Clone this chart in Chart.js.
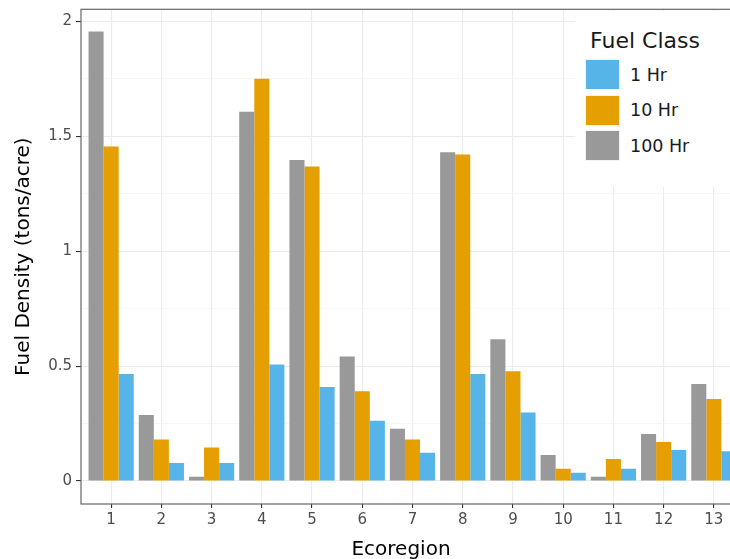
<!DOCTYPE html>
<html>
<head>
<meta charset="utf-8">
<title>Fuel Density by Ecoregion</title>
<script src="https://cdn.jsdelivr.net/npm/chart.js@4"></script>
<style>
  html, body { margin: 0; padding: 0; background: #fff; overflow: hidden; }
  #wrap { position: relative; width: 760px; height: 559px; }
  #legend {
    position: absolute; left: 575px; top: 11px; width: 190px; height: 176px;
    background: #fff; font-family: "DejaVu Sans", sans-serif; color: #1a1a1a;
  }
  #legend .title { position: absolute; left: 15px; top: 17px; font-size: 22px; line-height: 26px; }
  #legend .item { position: absolute; left: 10px; height: 31px; display: flex; align-items: center; }
  #legend .swatch { width: 35px; height: 31px; box-sizing: border-box; border: 1px solid #f4f4f4; }
  #legend .label { margin-left: 10px; font-size: 17.5px; }
</style>
</head>
<body>
<div id="wrap">
  <canvas id="fuelChart" width="760" height="559"></canvas>
  <div id="legend"></div>
</div>
<script>
// Data
const ecoregions = [1, 2, 3, 4, 5, 6, 7, 8, 9, 10, 11, 12, 13];
const hr100 = [1.955, 0.287, 0.019, 1.606, 1.396, 0.542, 0.227, 1.430, 0.617, 0.113, 0.019, 0.204, 0.422];
const hr10 = [1.455, 0.181, 0.146, 1.750, 1.368, 0.391, 0.181, 1.420, 0.478, 0.053, 0.096, 0.170, 0.357];
const hr1 = [0.465, 0.078, 0.078, 0.507, 0.409, 0.262, 0.123, 0.465, 0.298, 0.036, 0.053, 0.135, 0.129];
const yTicks = [0, 0.25, 0.5, 0.75, 1, 1.25, 1.5, 1.75, 2];

const colors = { hr1: '#56B4E9', hr10: '#E69F00', hr100: '#999999' };

const toPoints = (vals) => vals.map((v, i) => ({ x: ecoregions[i], y: v }));
const isMajor = (v) => Math.abs(v * 2 - Math.round(v * 2)) < 1e-9;

// panel border on all four sides + x axis title (placed like the original)
const panelBorder = {
  id: 'panelBorder',
  afterDraw(chart) {
    const { ctx, chartArea: a } = chart;
    ctx.save();
    ctx.strokeStyle = '#666666';
    ctx.lineWidth = 1.2;
    ctx.strokeRect(a.left, a.top, a.right - a.left, a.bottom - a.top);
    ctx.fillStyle = '#000';
    ctx.font = '20px "DejaVu Sans"';
    ctx.textAlign = 'center';
    ctx.textBaseline = 'alphabetic';
    ctx.fillText('Ecoregion', a.left + 320, a.bottom + 51);
    ctx.restore();
  }
};

const ctx = document.getElementById('fuelChart').getContext('2d');
const chart = new Chart(ctx, {
  type: 'bar',
  data: {
    datasets: [
      { label: '100 Hr', data: toPoints(hr100), backgroundColor: colors.hr100 },
      { label: '10 Hr', data: toPoints(hr10), backgroundColor: colors.hr10 },
      { label: '1 Hr', data: toPoints(hr1), backgroundColor: colors.hr1 },
    ],
  },
  options: {
    responsive: false,
    animation: false,
    layout: { padding: { top: 9.3, right: 16, left: 0, bottom: 0 } },
    datasets: {
      bar: { categoryPercentage: 0.9, barPercentage: 1.0, borderWidth: 0 },
    },
    plugins: { legend: { display: false }, tooltip: { enabled: false } },
    scales: {
      x: {
        type: 'linear',
        offset: false,
        min: 0.4,
        max: 13.6,
        afterBuildTicks: (s) => { s.ticks = ecoregions.map((v) => ({ value: v })); },
        afterFit: (s) => { s.height = 55; },
        ticks: {
          color: '#4d4d4d',
          font: { family: 'DejaVu Sans', size: 15 },
          padding: 3,
          maxRotation: 0,
          callback: (v) => String(v),
        },
        grid: { offset: false, color: '#ebebeb', lineWidth: 1.1, tickLength: 4, tickColor: '#333333' },
        border: { display: false },
      },
      y: {
        min: -0.1,
        max: 2.052,
        afterBuildTicks: (s) => { s.ticks = yTicks.map((v) => ({ value: v })); },
        afterFit: (s) => { s.width = 81; },
        ticks: {
          color: '#4d4d4d',
          font: { family: 'DejaVu Sans', size: 15, lineHeight: 0.65 },
          padding: 4,
          callback: (v) => (isMajor(v) ? String(v) : ''),
        },
        grid: {
          color: (c) => (isMajor(c.tick.value) ? '#ebebeb' : '#f4f4f4'),
          lineWidth: (c) => (isMajor(c.tick.value) ? 1.1 : 0.8),
          tickLength: 5,
          tickColor: (c) => (isMajor(c.tick.value) ? '#333333' : 'rgba(0,0,0,0)'),
        },
        border: { display: false },
        title: {
          display: true,
          text: 'Fuel Density (tons/acre)',
          color: '#000',
          font: { family: 'DejaVu Sans', size: 20 },
          padding: { top: 12, bottom: 0 },
        },
      },
    },
  },
  plugins: [panelBorder],
});

// legend in the order of the reference (1 Hr first)
const legendEl = document.getElementById('legend');
legendEl.innerHTML = '<div class="title">Fuel Class</div>';
chart.data.datasets.slice().reverse().forEach((ds, i) => {
  const item = document.createElement('div');
  item.className = 'item';
  item.style.top = (48 + i * 35.5) + 'px';
  item.innerHTML = '<div class="swatch" style="background:' + ds.backgroundColor + '"></div>' +
    '<span class="label">' + ds.label + '</span>';
  legendEl.appendChild(item);
});
</script>
</body>
</html>
